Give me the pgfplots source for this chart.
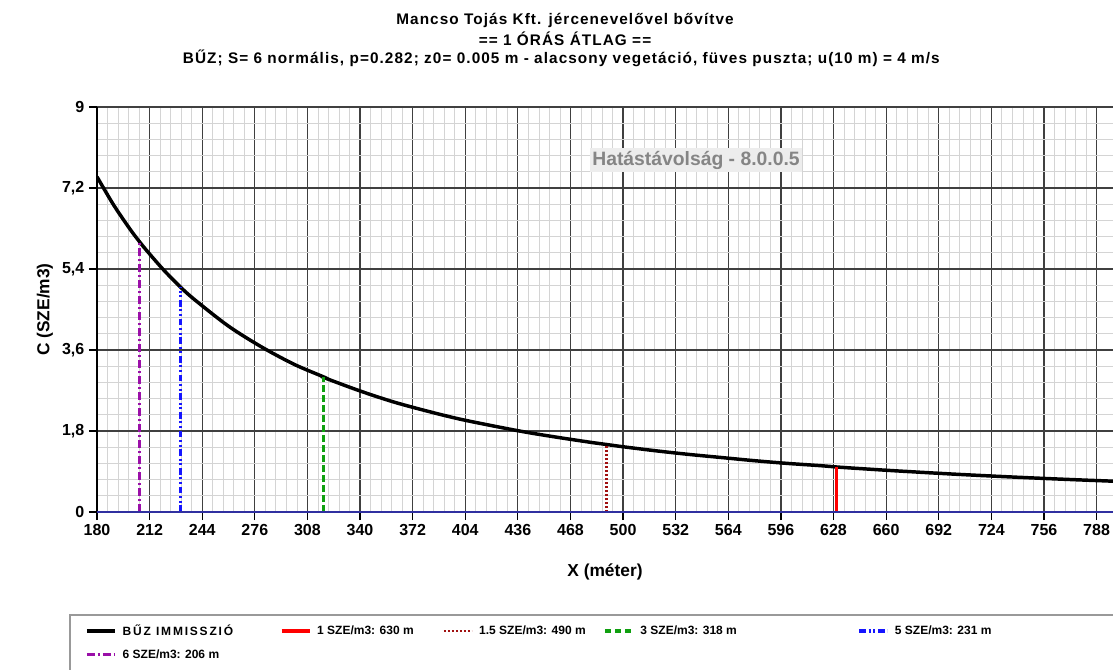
\documentclass[border=0pt]{standalone}
\usepackage{fontspec}
\setmainfont{Liberation Sans}
\usepackage{pgfplots}
\pgfplotsset{compat=1.18}
\definecolor{mgrid}{HTML}{404040}
\definecolor{ngrid}{HTML}{D4D4D4}
\definecolor{zline}{HTML}{3030A0}
\definecolor{cpurple}{HTML}{9A0FA8}
\definecolor{cblue}{HTML}{1515FF}
\definecolor{cgreen}{HTML}{10A010}
\definecolor{cdred}{HTML}{A01010}
\definecolor{cred}{HTML}{FF0000}
\begin{document}
\begin{tikzpicture}
\path[use as bounding box] (0pt,0pt) rectangle (834.75pt,-502.5pt);
\node[font=\fontsize{11.5}{13}\selectfont\bfseries\addfontfeature{LetterSpace=7}] at (423.75pt,-15pt) {Mancso Tojás Kft. jércenevelővel bővítve};
\node[font=\fontsize{11.5}{13}\selectfont\bfseries\addfontfeature{LetterSpace=7}] at (423.75pt,-29.25pt) {== 1 ÓRÁS ÁTLAG ==};
\node[font=\fontsize{11.5}{13}\selectfont\bfseries\addfontfeature{LetterSpace=7}] at (421pt,-43.5pt) {BŰZ; S= 6 normális, p=0.282; z0= 0.005 m - alacsony vegetáció, füves puszta; u(10 m) = 4 m/s};
\begin{axis}[
  at={(72.75pt,-384pt)}, anchor=south west,
  scale only axis, width=762pt, height=303.75pt,
  xmin=180, xmax=798, ymin=0, ymax=9,
  xtick={180,212,...,788}, ytick={0,1.8,3.6,5.4,7.2,9},
  minor x tick num=4, minor y tick num=4,
  grid=both,
  major grid style={mgrid, line width=0.9pt},
  minor grid style={ngrid, line width=0.6pt},
  axis lines=left, axis line style={-, black, line width=0.9pt},
  tick align=outside, major tick length=6pt, minor tick length=0pt,
  tick style={black, line width=0.9pt},
  /pgf/number format/assume math mode=true,
  ticklabel style={font=\fontsize{12}{14}\selectfont\bfseries},
  yticklabel style={/pgf/number format/use comma, /pgf/number format/fixed},
  xticklabel style={/pgf/number format/1000 sep={}},
  xlabel={X (méter)}, ylabel={C (SZE/m3)},
  label style={font=\fontsize{13}{15}\selectfont\bfseries},
  xlabel style={yshift=-14pt},
  legend columns=5,
  legend image code/.code={\draw[#1] (0pt,0pt) -- (21pt,0pt);},
  legend style={draw=none, fill=none, at={(-0.0158,-0.271)}, anchor=north west,
    font=\fontsize{9}{10}\selectfont\bfseries,
    nodes={inner sep=0pt, anchor=west},
    row sep=9pt,
    /tikz/every odd column/.style={column sep=4.5pt}},
  clip=true,
]
\addplot[black, line width=2.6pt, smooth] coordinates {
(180,7.45) (190,6.83) (200,6.29) (206,6.00) (210,5.82) (220,5.40) (231,4.99)
(240,4.70) (260,4.13) (280,3.67) (300,3.28) (318,3.00) (320,2.96) (340,2.69)
(360,2.45) (380,2.25) (400,2.07) (420,1.92) (440,1.78) (460,1.66) (480,1.55)
(490,1.50) (500,1.45) (520,1.36) (540,1.28) (560,1.21) (580,1.14) (600,1.08)
(620,1.03) (630,1.00) (640,0.975) (660,0.928) (680,0.885) (700,0.844) (720,0.807)
(740,0.772) (760,0.740) (780,0.710) (800,0.682)};
\addlegendentry{\makebox[118pt][l]{\addfontfeature{LetterSpace=15}BŰZ IMMISSZIÓ}}
\addplot[cred, line width=2.4pt] coordinates {(630,0) (630,1.00)};
\addlegendentry{\makebox[94pt][l]{1 SZE/m3: 630 m}}
\addplot[cdred, line width=2pt, dash pattern=on 1.3pt off 1.7pt] coordinates {(490,0) (490,1.50)};
\addlegendentry{\makebox[93pt][l]{1.5 SZE/m3: 490 m}}
\addplot[cgreen, line width=2.4pt, dash pattern=on 5pt off 2.5pt] coordinates {(318,0) (318,3.00)};
\addlegendentry{\makebox[163pt][l]{3 SZE/m3: 318 m}}
\addplot[cblue, line width=2.4pt, dash pattern=on 5pt off 2pt on 1.5pt off 2pt on 1.5pt off 2pt] coordinates {(231,0) (231,4.99)};
\addlegendentry{5 SZE/m3: 231 m}
\addplot[cpurple, line width=2.4pt, dash pattern=on 6pt off 2pt on 2pt off 2pt] coordinates {(206,0) (206,6.00)};
\addlegendentry{6 SZE/m3: 206 m}
\addplot[zline, line width=1.3pt, forget plot] coordinates {(180,0) (798,0)};
\end{axis}
\node[fill=black!7, text=black!48, inner sep=2pt, font=\fontsize{14.5}{16}\selectfont\bfseries] at (522pt,-120pt) {Hatástávolság - 8.0.0.5};
\draw[gray!80, line width=1pt] (52.5pt,-461.25pt) rectangle (845pt,-515pt);
\end{tikzpicture}
\end{document}
